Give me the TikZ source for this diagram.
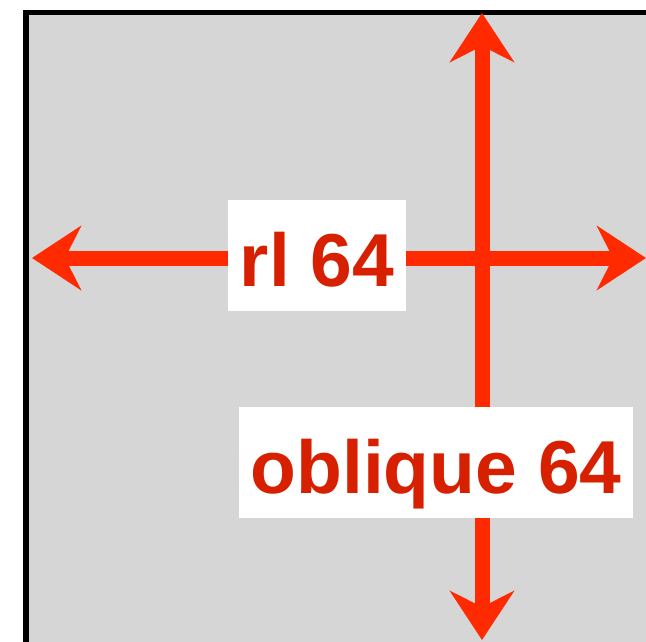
\documentclass[tikz,border=0pt]{standalone}
\usepackage{fontspec}
\setmainfont{Liberation Sans}
\usetikzlibrary{arrows.meta}
\definecolor{panelgray}{HTML}{D6D6D6}
\definecolor{arrowred}{HTML}{FF2A00}
\definecolor{labelred}{HTML}{D62000}

\begin{document}
\begin{tikzpicture}[x=1pt,y=-1pt,
		arrowline/.style={draw=arrowred,line width=15pt,{Stealth[length=49pt,width=64pt,inset=16pt]}-{Stealth[length=49pt,width=64pt,inset=16pt]}},
		labelbox/.style={fill=white,text=labelred,font=\fontsize{75}{80}\selectfont\bfseries,inner xsep=12pt,inner ysep=0pt,text height=87pt,text depth=24pt}]
		\useasboundingbox (0,0) rectangle (646,642);
		\fill[white] (0,0) rectangle (646,642);
		\draw[black,line width=5.5pt,fill=panelgray] (26,12.5) rectangle (720,720);
		% arrow ends
		\coordinate (west) at (32,258);
		\coordinate (east) at (646,258);
		\coordinate (north) at (482,13);
		\coordinate (south) at (482,640);
		\draw[arrowline] (west) -- (east);
		\draw[arrowline] (north) -- (south);
		% labels
		\node[labelbox] (rl) at (317,255) {rl 64};
		\node[labelbox] (oblique) at (436,462) {oblique 64};
	\end{tikzpicture}
\end{document}
